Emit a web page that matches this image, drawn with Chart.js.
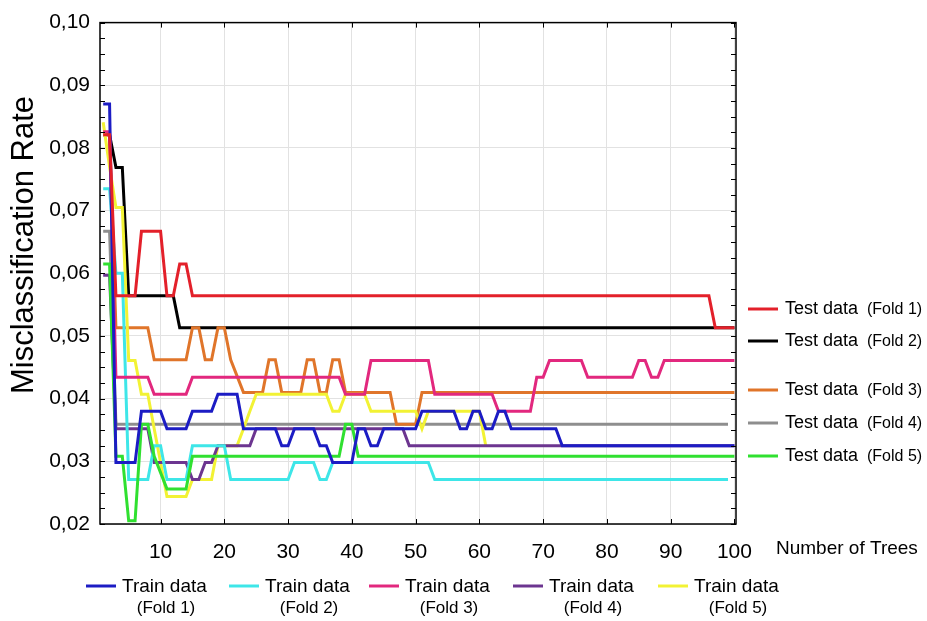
<!DOCTYPE html>
<html lang="en">
<head>
<meta charset="UTF-8">
<title>Misclassification Rate</title>
<script src="https://cdn.jsdelivr.net/npm/chart.js"></script>
<style>
  html, body { margin: 0; padding: 0; background: #fff; }
  canvas { display: block; }
</style>
</head>
<body>
<canvas id="grafico" width="927" height="621"></canvas>

<script>
// numero de arvores (eixo x)
const trees = Array.from({ length: 100 }, (_, i) => i + 1);
const xTicks = [10, 20, 30, 40, 50, 60, 70, 80, 90, 100];
const yTicks = [0.02, 0.03, 0.04, 0.05, 0.06, 0.07, 0.08, 0.09, 0.10];

// Test data
const test1 = [
  .0821, .0821, .0564, .0564, .0564, .0564, .0667, .0667, .0667, .0667,
  .0564, .0564, .0615, .0615, .0564, .0564, .0564, .0564, .0564, .0564,
  .0564, .0564, .0564, .0564, .0564, .0564, .0564, .0564, .0564, .0564,
  .0564, .0564, .0564, .0564, .0564, .0564, .0564, .0564, .0564, .0564,
  .0564, .0564, .0564, .0564, .0564, .0564, .0564, .0564, .0564, .0564,
  .0564, .0564, .0564, .0564, .0564, .0564, .0564, .0564, .0564, .0564,
  .0564, .0564, .0564, .0564, .0564, .0564, .0564, .0564, .0564, .0564,
  .0564, .0564, .0564, .0564, .0564, .0564, .0564, .0564, .0564, .0564,
  .0564, .0564, .0564, .0564, .0564, .0564, .0564, .0564, .0564, .0564,
  .0564, .0564, .0564, .0564, .0564, .0564, .0513, .0513, .0513, .0513
];
const test2 = [
  .0821, .0821, .0769, .0769, .0564, .0564, .0564, .0564, .0564, .0564,
  .0564, .0564, .0513, .0513, .0513, .0513, .0513, .0513, .0513, .0513,
  .0513, .0513, .0513, .0513, .0513, .0513, .0513, .0513, .0513, .0513,
  .0513, .0513, .0513, .0513, .0513, .0513, .0513, .0513, .0513, .0513,
  .0513, .0513, .0513, .0513, .0513, .0513, .0513, .0513, .0513, .0513,
  .0513, .0513, .0513, .0513, .0513, .0513, .0513, .0513, .0513, .0513,
  .0513, .0513, .0513, .0513, .0513, .0513, .0513, .0513, .0513, .0513,
  .0513, .0513, .0513, .0513, .0513, .0513, .0513, .0513, .0513, .0513,
  .0513, .0513, .0513, .0513, .0513, .0513, .0513, .0513, .0513, .0513,
  .0513, .0513, .0513, .0513, .0513, .0513, .0513, .0513, .0513, .0513
];
const test3 = [
  .0821, .0821, .0513, .0513, .0513, .0513, .0513, .0513, .0462, .0462,
  .0462, .0462, .0462, .0462, .0513, .0513, .0462, .0462, .0513, .0513,
  .0462, .0436, .0410, .0410, .0410, .0410, .0462, .0462, .0410, .0410,
  .0410, .0410, .0462, .0462, .0410, .0410, .0462, .0462, .0410, .0410,
  .0410, .0410, .0410, .0410, .0410, .0410, .0359, .0359, .0359, .0359,
  .0410, .0410, .0410, .0410, .0410, .0410, .0410, .0410, .0410, .0410,
  .0410, .0410, .0410, .0410, .0410, .0410, .0410, .0410, .0410, .0410,
  .0410, .0410, .0410, .0410, .0410, .0410, .0410, .0410, .0410, .0410,
  .0410, .0410, .0410, .0410, .0410, .0410, .0410, .0410, .0410, .0410,
  .0410, .0410, .0410, .0410, .0410, .0410, .0410, .0410, .0410, .0410
];
const test4 = [
  .0667, .0667, .0359, .0359, .0359, .0359, .0359, .0359, .0359, .0359,
  .0359, .0359, .0359, .0359, .0359, .0359, .0359, .0359, .0359, .0359,
  .0359, .0359, .0359, .0359, .0359, .0359, .0359, .0359, .0359, .0359,
  .0359, .0359, .0359, .0359, .0359, .0359, .0359, .0359, .0359, .0359,
  .0359, .0359, .0359, .0359, .0359, .0359, .0359, .0359, .0359, .0359,
  .0359, .0359, .0359, .0359, .0359, .0359, .0359, .0359, .0359, .0359,
  .0359, .0359, .0359, .0359, .0359, .0359, .0359, .0359, .0359, .0359,
  .0359, .0359, .0359, .0359, .0359, .0359, .0359, .0359, .0359, .0359,
  .0359, .0359, .0359, .0359, .0359, .0359, .0359, .0359, .0359, .0359,
  .0359, .0359, .0359, .0359, .0359, .0359, .0359, .0359, .0359, null
];
const test5 = [
  .0615, .0615, .0308, .0308, .0205, .0205, .0359, .0359, .0308, .0282,
  .0256, .0256, .0256, .0256, .0308, .0308, .0308, .0308, .0308, .0308,
  .0308, .0308, .0308, .0308, .0308, .0308, .0308, .0308, .0308, .0308,
  .0308, .0308, .0308, .0308, .0308, .0308, .0308, .0308, .0359, .0359,
  .0308, .0308, .0308, .0308, .0308, .0308, .0308, .0308, .0308, .0308,
  .0308, .0308, .0308, .0308, .0308, .0308, .0308, .0308, .0308, .0308,
  .0308, .0308, .0308, .0308, .0308, .0308, .0308, .0308, .0308, .0308,
  .0308, .0308, .0308, .0308, .0308, .0308, .0308, .0308, .0308, .0308,
  .0308, .0308, .0308, .0308, .0308, .0308, .0308, .0308, .0308, .0308,
  .0308, .0308, .0308, .0308, .0308, .0308, .0308, .0308, .0308, .0308
];

// Train data
const train1 = [
  .0870, .0870, .0298, .0298, .0298, .0298, .0380, .0380, .0380, .0380,
  .0352, .0352, .0352, .0352, .0380, .0380, .0380, .0380, .0407, .0407,
  .0407, .0407, .0352, .0352, .0352, .0352, .0352, .0352, .0325, .0325,
  .0352, .0352, .0352, .0352, .0325, .0325, .0298, .0298, .0298, .0298,
  .0352, .0352, .0325, .0325, .0352, .0352, .0352, .0352, .0352, .0352,
  .0380, .0380, .0380, .0380, .0380, .0380, .0352, .0352, .0380, .0380,
  .0352, .0352, .0380, .0380, .0352, .0352, .0352, .0352, .0352, .0352,
  .0352, .0352, .0325, .0325, .0325, .0325, .0325, .0325, .0325, .0325,
  .0325, .0325, .0325, .0325, .0325, .0325, .0325, .0325, .0325, .0325,
  .0325, .0325, .0325, .0325, .0325, .0325, .0325, .0325, .0325, .0325
];
const train2 = [
  .0735, .0735, .0600, .0600, .0271, .0271, .0271, .0271, .0325, .0325,
  .0271, .0271, .0271, .0271, .0325, .0325, .0325, .0325, .0325, .0325,
  .0271, .0271, .0271, .0271, .0271, .0271, .0271, .0271, .0271, .0271,
  .0298, .0298, .0298, .0298, .0271, .0271, .0298, .0298, .0298, .0298,
  .0298, .0298, .0298, .0298, .0298, .0298, .0298, .0298, .0298, .0298,
  .0298, .0298, .0271, .0271, .0271, .0271, .0271, .0271, .0271, .0271,
  .0271, .0271, .0271, .0271, .0271, .0271, .0271, .0271, .0271, .0271,
  .0271, .0271, .0271, .0271, .0271, .0271, .0271, .0271, .0271, .0271,
  .0271, .0271, .0271, .0271, .0271, .0271, .0271, .0271, .0271, .0271,
  .0271, .0271, .0271, .0271, .0271, .0271, .0271, .0271, .0271, null
];
const train3 = [
  .0826, .0826, .0434, .0434, .0434, .0434, .0434, .0434, .0407, .0407,
  .0407, .0407, .0407, .0407, .0434, .0434, .0434, .0434, .0434, .0434,
  .0434, .0434, .0434, .0434, .0434, .0434, .0434, .0434, .0434, .0434,
  .0434, .0434, .0434, .0434, .0434, .0434, .0434, .0434, .0407, .0407,
  .0407, .0407, .0461, .0461, .0461, .0461, .0461, .0461, .0461, .0461,
  .0461, .0461, .0407, .0407, .0407, .0407, .0407, .0407, .0407, .0407,
  .0407, .0407, .0380, .0380, .0380, .0380, .0380, .0380, .0434, .0434,
  .0461, .0461, .0461, .0461, .0461, .0461, .0434, .0434, .0434, .0434,
  .0434, .0434, .0434, .0434, .0461, .0461, .0434, .0434, .0461, .0461,
  .0461, .0461, .0461, .0461, .0461, .0461, .0461, .0461, .0461, .0461
];
const train4 = [
  .0597, .0597, .0352, .0352, .0352, .0352, .0352, .0352, .0298, .0298,
  .0298, .0298, .0298, .0298, .0271, .0271, .0298, .0298, .0325, .0325,
  .0325, .0325, .0325, .0325, .0352, .0352, .0352, .0352, .0352, .0352,
  .0352, .0352, .0352, .0352, .0352, .0352, .0352, .0352, .0352, .0352,
  .0352, .0352, .0352, .0352, .0352, .0352, .0352, .0352, .0325, .0325,
  .0325, .0325, .0325, .0325, .0325, .0325, .0325, .0325, .0325, .0325,
  .0325, .0325, .0325, .0325, .0325, .0325, .0325, .0325, .0325, .0325,
  .0325, .0325, .0325, .0325, .0325, .0325, .0325, .0325, .0325, .0325,
  .0325, .0325, .0325, .0325, .0325, .0325, .0325, .0325, .0325, .0325,
  .0325, .0325, .0325, .0325, .0325, .0325, .0325, .0325, .0325, .0325
];
const train5 = [
  .0841, .0770, .0705, .0705, .0461, .0461, .0407, .0407, .0352, .0298,
  .0244, .0244, .0244, .0244, .0271, .0271, .0271, .0271, .0325, .0325,
  .0325, .0325, .0352, .0380, .0407, .0407, .0407, .0407, .0407, .0407,
  .0407, .0407, .0407, .0407, .0407, .0407, .0380, .0380, .0407, .0407,
  .0407, .0407, .0380, .0380, .0380, .0380, .0380, .0380, .0380, .0380,
  .0352, .0380, .0380, .0380, .0380, .0380, .0380, .0380, .0380, .0380,
  .0325, null, null, null, null, null, null, null, null, null,
  null, null, null, null, null, null, null, null, null, null,
  null, null, null, null, null, null, null, null, null, null,
  null, null, null, null, null, null, null, null, null, null
];

const fonte = "'Liberation Sans', Arial, sans-serif";
Chart.defaults.font.family = fonte;
Chart.defaults.color = '#000';

function serie(valores) {
  return trees.map((t, i) => ({ x: t, y: valores[i] }));
}

function linha(label, valores, cor) {
  return {
    label: label,
    data: serie(valores),
    borderColor: cor,
    backgroundColor: cor,
    borderWidth: 3,
    pointRadius: 0,
    tension: 0,
    fill: false,
    spanGaps: false
  };
}

const cores = {
  test1: '#e3202a', test2: '#000000', test3: '#e0752a', test4: '#8e8e8e', test5: '#30e030',
  train1: '#1c1cc4', train2: '#3ee6e8', train3: '#e2287e', train4: '#6c3590', train5: '#f2f234'
};

// legenda da direita e de baixo (desenhadas a mao)
const legendaDireita = [
  { cor: cores.test1, y: 309, fold: '(Fold 1)' },
  { cor: cores.test2, y: 341, fold: '(Fold 2)' },
  { cor: cores.test3, y: 390, fold: '(Fold 3)' },
  { cor: cores.test4, y: 423, fold: '(Fold 4)' },
  { cor: cores.test5, y: 456, fold: '(Fold 5)' }
];
const legendaBaixo = [
  { cor: cores.train1, x: 86, fold: '(Fold 1)' },
  { cor: cores.train2, x: 229, fold: '(Fold 2)' },
  { cor: cores.train3, x: 369, fold: '(Fold 3)' },
  { cor: cores.train4, x: 513, fold: '(Fold 4)' },
  { cor: cores.train5, x: 658, fold: '(Fold 5)' }
];

const moldura = {
  id: 'moldura',
  afterDatasetsDraw(chart) {
    const { ctx, chartArea: a, scales } = chart;
    const x = scales.x, y = scales.y;
    ctx.save();
    ctx.strokeStyle = '#000';
    ctx.lineWidth = 1;
    // marcas do eixo y (principais e secundarias), para dentro
    for (let k = 0; k <= 32; k++) {
      const py = Math.round(y.getPixelForValue(0.02 + k * 0.0025)) + 0.5;
      const len = 5;
      ctx.beginPath();
      ctx.moveTo(a.left, py); ctx.lineTo(a.left + len, py);
      ctx.moveTo(a.right, py); ctx.lineTo(a.right - len, py);
      ctx.stroke();
    }
    // marcas do eixo x
    xTicks.forEach(function (t) {
      const px = Math.round(x.getPixelForValue(t)) + 0.5;
      ctx.beginPath();
      ctx.moveTo(px, a.bottom); ctx.lineTo(px, a.bottom - 5);
      ctx.moveTo(px, a.top); ctx.lineTo(px, a.top + 5);
      ctx.stroke();
    });
    ctx.lineWidth = 1.5;
    ctx.strokeRect(a.left, a.top, a.right - a.left, a.bottom - a.top);
    ctx.restore();
  },
  afterDraw(chart) {
    const ctx = chart.ctx;
    ctx.save();
    ctx.fillStyle = '#000';

    // titulo do eixo y
    ctx.save();
    ctx.translate(24, 245);
    ctx.rotate(-Math.PI / 2);
    ctx.font = '31px ' + fonte;
    ctx.textAlign = 'center';
    ctx.textBaseline = 'middle';
    ctx.fillText('Misclassification Rate', 0, 0);
    ctx.restore();

    // titulo do eixo x
    ctx.font = '19px ' + fonte;
    ctx.textAlign = 'left';
    ctx.textBaseline = 'middle';
    ctx.fillText('Number of Trees', 776, 549);

    // legenda Test data
    legendaDireita.forEach(function (item) {
      ctx.strokeStyle = item.cor;
      ctx.lineWidth = 3;
      ctx.beginPath();
      ctx.moveTo(748, item.y); ctx.lineTo(778, item.y);
      ctx.stroke();
      ctx.font = '18px ' + fonte;
      ctx.textAlign = 'left';
      ctx.fillText('Test data', 785, item.y);
      ctx.font = '16px ' + fonte;
      ctx.fillText(item.fold, 867, item.y + 1);
    });

    // legenda Train data
    legendaBaixo.forEach(function (item) {
      ctx.strokeStyle = item.cor;
      ctx.lineWidth = 3;
      ctx.beginPath();
      ctx.moveTo(item.x, 586); ctx.lineTo(item.x + 30, 586);
      ctx.stroke();
      ctx.font = '19px ' + fonte;
      ctx.textAlign = 'left';
      ctx.fillText('Train data', item.x + 36, 587);
      ctx.font = '17px ' + fonte;
      ctx.textAlign = 'center';
      ctx.fillText(item.fold, item.x + 80, 608);
    });
    ctx.restore();
  }
};

new Chart(document.getElementById('grafico'), {
  type: 'line',
  data: {
    datasets: [
      linha('Test data (Fold 1)', test1, cores.test1),
      linha('Train data (Fold 1)', train1, cores.train1),
      linha('Train data (Fold 3)', train3, cores.train3),
      linha('Test data (Fold 5)', test5, cores.test5),
      linha('Train data (Fold 2)', train2, cores.train2),
      linha('Train data (Fold 4)', train4, cores.train4),
      linha('Train data (Fold 5)', train5, cores.train5),
      linha('Test data (Fold 3)', test3, cores.test3),
      linha('Test data (Fold 2)', test2, cores.test2),
      linha('Test data (Fold 4)', test4, cores.test4)
    ]
  },
  options: {
    responsive: false,
    animation: false,
    layout: { padding: { left: 0, top: 17, right: 191, bottom: 0 } },
    plugins: {
      legend: { display: false },
      tooltip: { enabled: false }
    },
    scales: {
      x: {
        type: 'linear',
        min: 0.5,
        max: 100.25,
        afterBuildTicks: function (scale) {
          scale.ticks = xTicks.map(v => ({ value: v }));
        },
        afterFit: function (scale) { scale.height = 97; },
        grid: { color: '#e2e2e2', lineWidth: 1, drawTicks: false },
        border: { display: false },
        ticks: {
          font: { size: 21 },
          padding: 16,
          maxRotation: 0,
          autoSkip: false
        }
      },
      y: {
        type: 'linear',
        min: 0.02,
        max: 0.10,
        afterBuildTicks: function (scale) {
          scale.ticks = yTicks.map(v => ({ value: v }));
        },
        afterFit: function (scale) { scale.width = 100; },
        grid: { color: '#e2e2e2', lineWidth: 1, drawTicks: false },
        border: { display: false },
        ticks: {
          font: { size: 21 },
          padding: 10,
          callback: function (v) { return v.toFixed(2).replace('.', ','); }
        }
      }
    }
  },
  plugins: [moldura]
});
</script>
</body>
</html>
